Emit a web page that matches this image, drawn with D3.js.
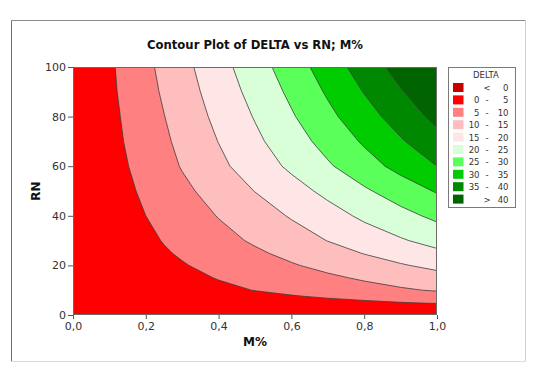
<!DOCTYPE html>
<html>
<head>
<meta charset="utf-8">
<script src="https://cdn.jsdelivr.net/npm/d3@7"></script>
<style>
  body { margin: 0; background: #fff; }
  svg { display: block; font-family: "DejaVu Sans", Verdana, sans-serif; }
</style>
</head>
<body>
<div id="chart"></div>
<script>
//////////////////////
//  main constants  //
//////////////////////
const WIDTH = 550;
const HEIGHT = 380;
const MARGIN = { TOP: 67, BOTTOM: 65, LEFT: 73, RIGHT: 113 };

// grid: columns = M%, rows = RN
const mValues = [0, 0.05, 0.1, 0.15, 0.2, 0.25, 0.3, 0.4, 0.5, 0.6, 0.7, 0.8, 0.9, 1.0];
const rnValues = [0, 2.5, 5, 7.5, 10, 15, 20, 25, 30, 40, 50, 60, 70, 80, 90, 100];
const deltaRows = [
    [0, 0.0, 0.0, 0.0, 0.0, 0.0, 0.0, 0.0, 0.0, 0.0, 0.0, 0.0, 0.0, 0.0],
    [0, 0.1, 0.3, 0.4, 0.5, 0.6, 0.8, 1.1, 1.3, 1.6, 1.9, 2.2, 2.4, 2.7],
    [0, 0.2, 0.5, 0.8, 1.0, 1.3, 1.6, 2.1, 2.6, 3.2, 3.8, 4.3, 4.9, 5.4],
    [0, 0.4, 0.7, 1.1, 1.5, 1.9, 2.3, 3.1, 3.9, 4.7, 5.5, 6.3, 7.1, 7.9],
    [0, 0.5, 1.0, 1.5, 2.0, 2.5, 3.0, 4.1, 5.1, 6.1, 7.2, 8.3, 9.4, 10.4],
    [0, 0.6, 1.2, 1.9, 2.5, 3.2, 3.9, 5.2, 6.5, 7.8, 9.2, 10.6, 12.0, 13.3],
    [0, 0.7, 1.5, 2.3, 3.1, 3.9, 4.7, 6.3, 7.9, 9.6, 11.3, 13.0, 14.6, 16.2],
    [0, 0.9, 1.8, 2.7, 3.6, 4.6, 5.5, 7.4, 9.3, 11.2, 13.2, 15.2, 17.1, 19.0],
    [0, 1.0, 2.0, 3.0, 4.1, 5.2, 6.3, 8.5, 10.6, 12.8, 15.1, 17.4, 19.5, 21.7],
    [0, 1.2, 2.4, 3.7, 5.0, 6.3, 7.6, 10.2, 12.8, 15.4, 18.1, 20.9, 23.5, 26.1],
    [0, 1.4, 2.8, 4.3, 5.8, 7.3, 8.9, 12.0, 15.1, 18.1, 21.2, 24.3, 27.4, 30.4],
    [0, 1.6, 3.3, 4.9, 6.7, 8.4, 10.3, 13.9, 17.4, 20.9, 24.4, 28.0, 31.5, 35.0],
    [0, 1.8, 3.6, 5.4, 7.3, 9.2, 11.2, 15.1, 19.0, 22.8, 26.7, 30.6, 34.5, 38.3],
    [0, 1.9, 3.8, 5.8, 7.8, 9.9, 12.0, 16.2, 20.3, 24.5, 28.8, 33.0, 37.2, 41.3],
    [0, 2.0, 4.1, 6.2, 8.4, 10.6, 12.8, 17.2, 21.6, 26.0, 30.6, 35.2, 39.6, 44.0],
    [0, 2.1, 4.3, 6.5, 8.9, 11.2, 13.5, 18.2, 22.8, 27.5, 32.4, 37.3, 41.9, 46.6]
];

const levels = [0, 5, 10, 15, 20, 25, 30, 35, 40];
const legendLabels = [
    ["", "<", "0"], ["0", "-", "5"], ["5", "-", "10"], ["10", "-", "15"], ["15", "-", "20"],
    ["20", "-", "25"], ["25", "-", "30"], ["30", "-", "35"], ["35", "-", "40"], ["", ">", "40"]
];
const bandColors = ["#c80000", "#ff0000", "#ff8080", "#ffbebe", "#ffe6e6",
    "#d9ffd9", "#5aff5a", "#00cc00", "#008800", "#006400"];
const xTicks = [0, 0.2, 0.4, 0.6, 0.8, 1.0];
const yTicks = [0, 20, 40, 60, 80, 100];

const widthPlot = WIDTH - MARGIN.LEFT - MARGIN.RIGHT;
const heightPlot = HEIGHT - MARGIN.TOP - MARGIN.BOTTOM;

const svg = d3.select("#chart").append("svg")
    .attr("width", WIDTH)
    .attr("height", HEIGHT);

// outer frame
const frame = svg.append("g");
frame.append("line").attr("x1", 11.5).attr("y1", 20.5).attr("x2", 525.5).attr("y2", 20.5).attr("stroke", "#8c8c8c");
frame.append("line").attr("x1", 11.5).attr("y1", 20.5).attr("x2", 11.5).attr("y2", 361.5).attr("stroke", "#6e6e6e");
frame.append("line").attr("x1", 525.5).attr("y1", 20.5).attr("x2", 525.5).attr("y2", 361.5).attr("stroke", "#d0d0d0");
frame.append("line").attr("x1", 11.5).attr("y1", 361.5).attr("x2", 525.5).attr("y2", 361.5).attr("stroke", "#dcdcdc");

svg.append("text")
    .attr("x", 255).attr("y", 49)
    .attr("text-anchor", "middle")
    .attr("font-size", "12px").attr("font-weight", "bold")
    .attr("fill", "#111")
    .attr("textLength", 216)
    .attr("lengthAdjust", "spacingAndGlyphs")
    .text("Contour Plot of DELTA vs RN; M%");

//////////////
//  scales  //
//////////////
const x = d3.scaleLinear().domain([0, 1]).range([MARGIN.LEFT, MARGIN.LEFT + widthPlot]);
const y = d3.scaleLinear().domain([0, 100]).range([MARGIN.TOP + heightPlot, MARGIN.TOP]);

// contour grid coordinates -> data values (samples sit at index + 0.5)
const mIdx = d3.scaleLinear().domain(mValues.map((d, i) => i + 0.5)).range(mValues).clamp(true);
const rnIdx = d3.scaleLinear().domain(rnValues.map((d, i) => i + 0.5)).range(rnValues).clamp(true);
const proj = d3.geoTransform({
    point(px, py) { this.stream.point(x(mIdx(px)), y(rnIdx(py))); }
});
const path = d3.geoPath(proj);

const flat = deltaRows.flat();
const contours = d3.contours()
    .size([mValues.length, rnValues.length])
    .thresholds(levels)(flat);

svg.append("clipPath").attr("id", "plot-clip")
    .append("rect")
    .attr("x", MARGIN.LEFT).attr("y", MARGIN.TOP)
    .attr("width", widthPlot).attr("height", heightPlot);

svg.append("g")
    .attr("clip-path", "url(#plot-clip)")
    .selectAll("path")
    .data(contours)
    .join("path")
    .attr("d", path)
    .attr("fill", (d, i) => bandColors[i + 1])
    .attr("fill-rule", "evenodd")
    .attr("stroke", "#3c3c3c")
    .attr("stroke-width", 0.8)
    .attr("stroke-linejoin", "round");

// plot border
svg.append("rect")
    .attr("x", MARGIN.LEFT + 0.5).attr("y", MARGIN.TOP + 0.5)
    .attr("width", widthPlot - 1).attr("height", heightPlot - 1)
    .attr("fill", "none").attr("stroke", "#6a6a6a");

////////////
//  axes  //
////////////
const fmt = d => d3.format(".1f")(d).replace(".", ",");

const xAxis = svg.append("g")
    .attr("transform", `translate(0, ${MARGIN.TOP + heightPlot})`)
    .call(d3.axisBottom(x).tickValues(xTicks).tickFormat(fmt).tickSizeOuter(0).tickSize(4).tickPadding(3));
const yAxis = svg.append("g")
    .attr("transform", `translate(${MARGIN.LEFT}, 0)`)
    .call(d3.axisLeft(y).tickValues(yTicks).tickSizeOuter(0).tickSize(5).tickPadding(2));

[xAxis, yAxis].forEach(a => {
    a.select(".domain").remove();
    a.selectAll(".tick line").attr("stroke", "#555");
    a.selectAll(".tick text")
        .attr("fill", "#333")
        .attr("font-size", "11px")
        .attr("font-family", "DejaVu Sans, Verdana, sans-serif");
});

svg.append("text")
    .attr("x", 255).attr("y", 346)
    .attr("text-anchor", "middle")
    .attr("font-size", "12px").attr("font-weight", "bold")
    .attr("fill", "#111")
    .text("M%");

svg.append("text")
    .attr("transform", `translate(40, ${MARGIN.TOP + heightPlot / 2}) rotate(-90)`)
    .attr("text-anchor", "middle")
    .attr("font-size", "12px").attr("font-weight", "bold")
    .attr("fill", "#111")
    .text("RN");

//////////////
//  legend  //
//////////////
const legend = svg.append("g");
legend.append("rect")
    .attr("x", 448.5).attr("y", 67.5)
    .attr("width", 67).attr("height", 140)
    .attr("fill", "#fff").attr("stroke", "#7a7a7a");

legend.append("text")
    .attr("x", 486).attr("y", 78)
    .attr("text-anchor", "middle")
    .attr("font-size", "8.5px").attr("fill", "#333")
    .text("DELTA");

const rows = legend.selectAll("g.row")
    .data(legendLabels)
    .join("g")
    .attr("class", "row")
    .attr("transform", (d, i) => `translate(0, ${83 + i * 12.4})`);

rows.append("rect")
    .attr("x", 453).attr("y", 0)
    .attr("width", 10.5).attr("height", 9)
    .attr("fill", (d, i) => bandColors[i]);

rows.append("text")
    .attr("x", 479.5).attr("y", 8)
    .attr("text-anchor", "end")
    .attr("font-size", "8.5px").attr("fill", "#333")
    .text(d => d[0]);
rows.append("text")
    .attr("x", 487).attr("y", 8)
    .attr("text-anchor", "middle")
    .attr("font-size", "8.5px").attr("fill", "#333")
    .text(d => d[1]);
rows.append("text")
    .attr("x", 508.5).attr("y", 8)
    .attr("text-anchor", "end")
    .attr("font-size", "8.5px").attr("fill", "#333")
    .text(d => d[2]);
</script>
</body>
</html>
